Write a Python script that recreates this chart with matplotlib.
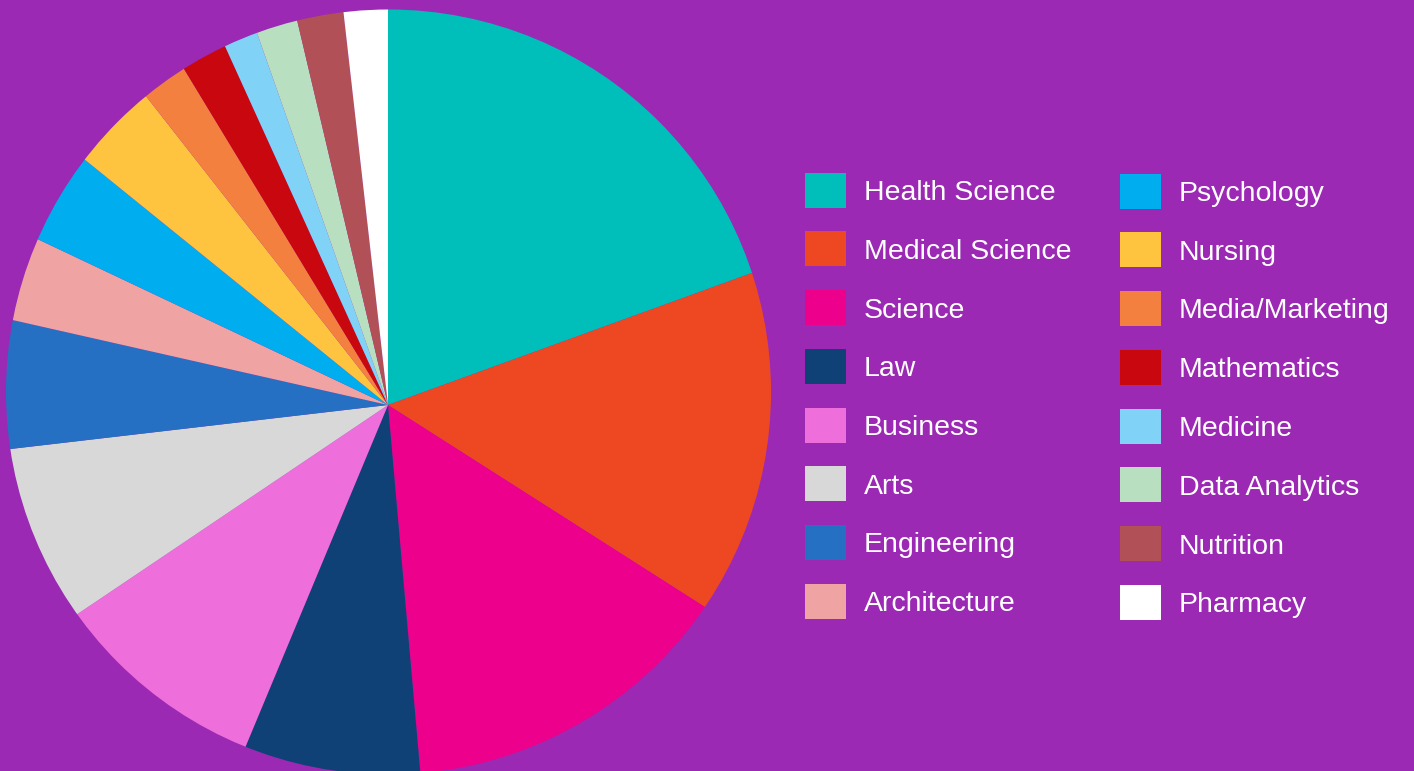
import matplotlib
matplotlib.use("Agg")
import matplotlib.pyplot as plt
from matplotlib.patches import Rectangle, Circle

categories = ["Health Science", "Medical Science", "Science", "Law", "Business",
              "Arts", "Engineering", "Architecture", "Psychology", "Nursing",
              "Media/Marketing", "Mathematics", "Medicine", "Data Analytics",
              "Nutrition", "Pharmacy"]
values = [19.5, 14.6, 14.6, 7.7, 9.3, 7.6, 5.4, 3.5, 3.8, 3.6, 1.9, 1.9, 1.4, 1.7, 1.9, 1.8]
colors = ["#00BEBA", "#EE4823", "#EC008C", "#0F4177", "#EE6EDB", "#D8D8D8",
          "#2570C3", "#F0A3A3", "#00AEEF", "#FEC43F", "#F48040", "#C8070E",
          "#80D3F7", "#B8DFC0", "#B25058", "#FFFFFF"]

BG = "#9B29B4"
W, H = 1414, 771
fig = plt.figure(figsize=(W / 100, H / 100), dpi=100, facecolor=BG)

# pixel-based axes (y up)
ax = fig.add_axes([0, 0, 1, 1])
apex = (388.0, H - 405.0)
circ_c = (388.5, H - 392.0)
circ_r = 382.5
wedges, _ = ax.pie(values, colors=colors, startangle=90, counterclock=False,
                   center=apex, radius=430,
                   wedgeprops=dict(linewidth=0, antialiased=True))
ax.set_aspect("auto")
ax.set_xlim(0, W)
ax.set_ylim(0, H)
ax.axis("off")
clip = Circle(circ_c, circ_r, facecolor="none", edgecolor="none")
ax.add_patch(clip)
for w in wedges:
    w.set_clip_on(True)
    w.set_clip_path(clip)

# legend overlay in pixel coordinates
lg = fig.add_axes([0, 0, 1, 1])
lg.set_xlim(0, W)
lg.set_ylim(H, 0)
lg.axis("off")
lg.patch.set_alpha(0)

col_x = [805, 1120]
row_y0 = 190
row_dy = 58.75
for i, (name, col) in enumerate(zip(categories, colors)):
    c = i // 8
    r = i % 8
    x = col_x[c]
    y = row_y0 + r * row_dy + (1 if c == 1 else 0)
    lg.add_patch(Rectangle((x, y - 17.5), 41, 35, facecolor=col, edgecolor="none"))
    lg.text(x + 59, y + 10, name, color="white", fontsize=20.5,
            family=["Liberation Sans", "DejaVu Sans"], va="baseline", ha="left")

fig.savefig("out.png", dpi=100, facecolor=BG)
